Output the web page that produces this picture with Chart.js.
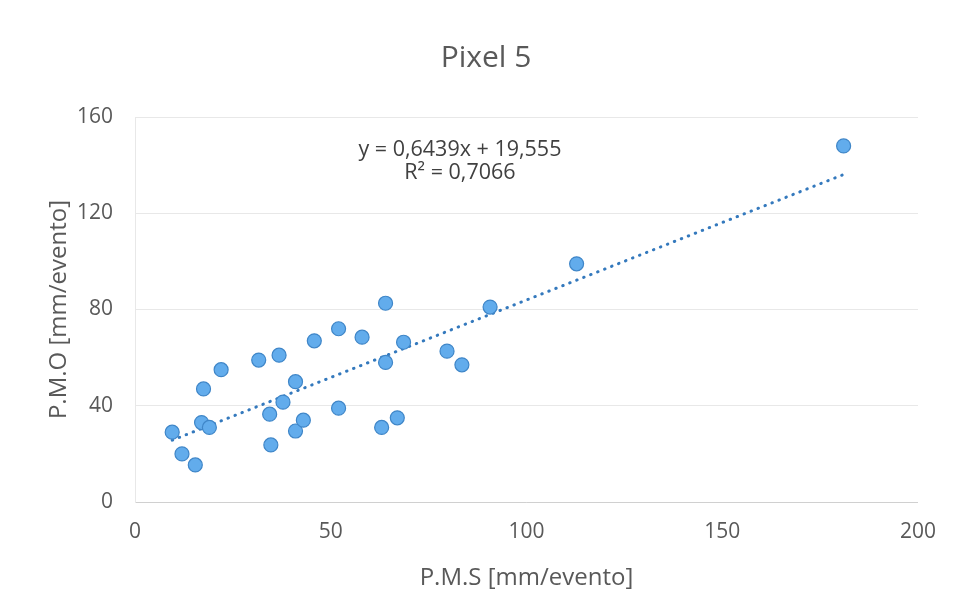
<!DOCTYPE html>
<html>
<head>
<meta charset="utf-8">
<script src="https://cdn.jsdelivr.net/npm/chart.js@4.4.1/dist/chart.umd.min.js"></script>
<style>
  html, body { margin: 0; padding: 0; background: #fff; }
  #wrap { width: 953px; height: 613px; }
</style>
</head>
<body>
<div id="wrap"><canvas id="chart"></canvas></div>
<script>
// P.M.S (simulated) vs P.M.O (observed), mm/evento
const pms = [9.5, 12, 15.4, 17.5, 17, 19, 22, 31.6, 36.8, 34.4, 37.8, 34.7, 41, 41, 43,
  45.8, 52, 52, 58, 64, 64, 63, 67, 68.6, 79.7, 83.5, 90.7, 112.8, 181];
const pmo = [29, 20, 15.4, 47, 33, 31, 55, 59, 61, 36.5, 41.5, 23.7, 50, 29.5, 34,
  67, 72, 39, 68.5, 82.6, 58, 31, 35, 66.4, 62.7, 57, 81, 99, 148];

const slope = 0.6439;
const intercept = 19.555;
const eqLabel = "y = 0,6439x + 19,555";
const r2Label = "R² = 0,7066";

const xTicks = [0, 50, 100, 150, 200];
const yTicks = [0, 40, 80, 120, 160];

const font = "'Open Sans', 'Noto Sans', sans-serif";
const textColor = "#595959";

const points = pms.map((x, i) => ({ x: x, y: pmo[i] }));
const xMin = Math.min(...pms);
const xMax = Math.max(...pms);
const trend = [
  { x: xMin, y: slope * xMin + intercept },
  { x: xMax, y: slope * xMax + intercept }
];

// trendline equation box, Excel style
const equationText = {
  id: "equationText",
  afterDatasetsDraw(chart) {
    const ctx = chart.ctx;
    const area = chart.chartArea;
    const cx = area.left + (area.right - area.left) * 0.415;
    ctx.save();
    ctx.fillStyle = "#404040";
    ctx.font = "21.5px " + font;
    ctx.textAlign = "center";
    ctx.textBaseline = "middle";
    ctx.fillText(eqLabel, cx, area.top + 33);
    ctx.fillText(r2Label, cx, area.top + 56);
    ctx.restore();
  }
};

new Chart(document.getElementById("chart"), {
  type: "scatter",
  data: {
    datasets: [
      {
        label: "Pixel 5",
        data: points,
        backgroundColor: "#62acec",
        borderColor: "#3f86c8",
        borderWidth: 1.2,
        pointRadius: 7,
        order: 1
      },
      {
        label: "trend",
        type: "line",
        data: trend,
        borderColor: "#3479bd",
        borderWidth: 3,
        borderDash: [0.5, 7],
        borderCapStyle: "round",
        pointRadius: 0,
        fill: false,
        order: 2
      }
    ]
  },
  options: {
    responsive: true,
    maintainAspectRatio: false,
    animation: false,
    layout: { padding: { left: 48, right: 29, top: 0, bottom: 16 } },
    plugins: {
      legend: { display: false },
      tooltip: { enabled: false },
      title: {
        display: true,
        text: "Pixel 5",
        color: textColor,
        font: { family: font, size: 30, weight: "normal" },
        padding: { top: 40, bottom: 41 }
      }
    },
    scales: {
      x: {
        type: "linear",
        min: 0,
        max: 200,
        afterBuildTicks: s => { s.ticks = xTicks.map(v => ({ value: v })); },
        afterFit: s => { s.height = 95; },
        grid: { display: false, drawTicks: false },
        border: { color: "#d0d0d0", width: 1 },
        ticks: { color: textColor, font: { family: font, size: 21 }, padding: 17 },
        title: {
          display: true,
          text: "P.M.S [mm/evento]",
          color: textColor,
          font: { family: font, size: 24 },
          padding: 4
        }
      },
      y: {
        type: "linear",
        min: 0,
        max: 160,
        afterBuildTicks: s => { s.ticks = yTicks.map(v => ({ value: v })); },
        afterFit: s => { s.width = 87; },
        grid: { color: "#e8e8e8", drawTicks: false },
        border: { color: "#e8e8e8", width: 1 },
        ticks: { color: textColor, font: { family: font, size: 21 }, padding: 22 },
        title: {
          display: true,
          text: "P.M.O [mm/evento]",
          color: textColor,
          font: { family: font, size: 24, lineHeight: 0.9 },
          padding: 0
        }
      }
    }
  },
  plugins: [equationText]
});
</script>
</body>
</html>
